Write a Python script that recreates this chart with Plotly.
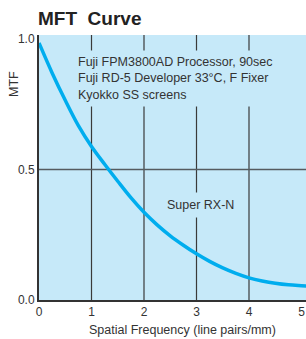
import plotly.graph_objects as go

# Data
freq = [0, 0.25, 0.5, 0.75, 1.0, 1.25, 1.5, 1.75, 2.0, 2.25, 2.5, 2.75, 3.0,
        3.25, 3.5, 3.75, 4.0, 4.25, 4.5, 4.75, 5.0, 5.09]
mtf = [0.985, 0.87, 0.765, 0.668, 0.588, 0.52, 0.455, 0.392, 0.336, 0.288, 0.246,
       0.21, 0.177, 0.148, 0.123, 0.102, 0.085, 0.073, 0.064, 0.058, 0.055, 0.054]
x_ticks = [0, 1, 2, 3, 4, 5]
y_ticks = [0.0, 0.5, 1.0]
y_tick_labels = ["0.0", "0.5", "1.0"]
grid_x = [1, 2, 3, 4]
grid_y = [0.5]

BG = "#c6e9f9"
FONT = "Liberation Sans, Arial, sans-serif"

fig = go.Figure()
fig.add_trace(go.Scatter(x=freq, y=mtf, mode="lines",
                         line=dict(color="#00adee", width=3.5, shape="spline"),
                         hoverinfo="skip", showlegend=False))

shapes = []
for gx in grid_x:
    shapes.append(dict(type="line", xref="x", yref="paper", x0=gx, x1=gx, y0=0, y1=1,
                       line=dict(color="#3a3a3a", width=1.2), layer="below"))
for gy in grid_y:
    shapes.append(dict(type="line", xref="paper", yref="y", x0=0, x1=1, y0=gy, y1=gy,
                       line=dict(color="#555b60", width=1.5), layer="below"))

annotations = [
    dict(text="Fuji FPM3800AD Processor, 90sec<br>Fuji RD-5 Developer 33°C, F Fixer<br>Kyokko SS screens",
         xref="paper", yref="paper", x=(73 - 39) / 267, y=(300 - 50) / 265,
         xanchor="left", yanchor="top", align="left", showarrow=False,
         font=dict(family=FONT, size=12.5, color="#333333"),
         bgcolor=BG, borderpad=4),
    dict(text="Super RX-N", xref="paper", yref="paper",
         x=(200 - 39) / 267, y=(300 - 205) / 265, xanchor="center", yanchor="middle",
         showarrow=False, font=dict(family=FONT, size=12.5, color="#333333"),
         bgcolor=BG, borderpad=5),
    dict(text="MTF", xref="paper", yref="paper", x=(14 - 39) / 267, y=(300 - 84) / 265,
         xanchor="center", yanchor="middle", textangle=-90, showarrow=False,
         font=dict(family=FONT, size=12.5, color="#333333")),
    dict(text="Spatial Frequency (line pairs/mm)", xref="paper", yref="paper",
         x=(182 - 39) / 267, y=(300 - 330) / 265, xanchor="center", yanchor="middle",
         showarrow=False, font=dict(family=FONT, size=12.5, color="#333333")),
]

fig.update_layout(
    width=306, height=339,
    margin=dict(l=39, r=0, t=35, b=39),
    paper_bgcolor="white", plot_bgcolor=BG,
    title=dict(text="<b>MFT  Curve</b>", x=38 / 306, xanchor="left", xref="container",
               y=1 - 18 / 339, yanchor="middle", yref="container",
               font=dict(family=FONT, size=19, color="#222222")),
    xaxis=dict(range=[0, 267 / 52.5], tickvals=x_ticks, showgrid=False, zeroline=False,
               showline=True, linecolor="#333333", linewidth=2, ticks="",
               tickfont=dict(family=FONT, size=12, color="#333333"), fixedrange=True),
    yaxis=dict(range=[0, 265 / 261], tickvals=y_ticks, ticktext=y_tick_labels,
               showgrid=False, zeroline=False, showline=True, linecolor="#333333",
               linewidth=2, ticks="", tickfont=dict(family=FONT, size=12, color="#333333"),
               fixedrange=True),
    shapes=shapes, annotations=annotations,
)

fig.write_html("out.html", config={"displayModeBar": False},
               post_script="document.body.style.margin='0px';document.body.style.overflow='hidden';")
